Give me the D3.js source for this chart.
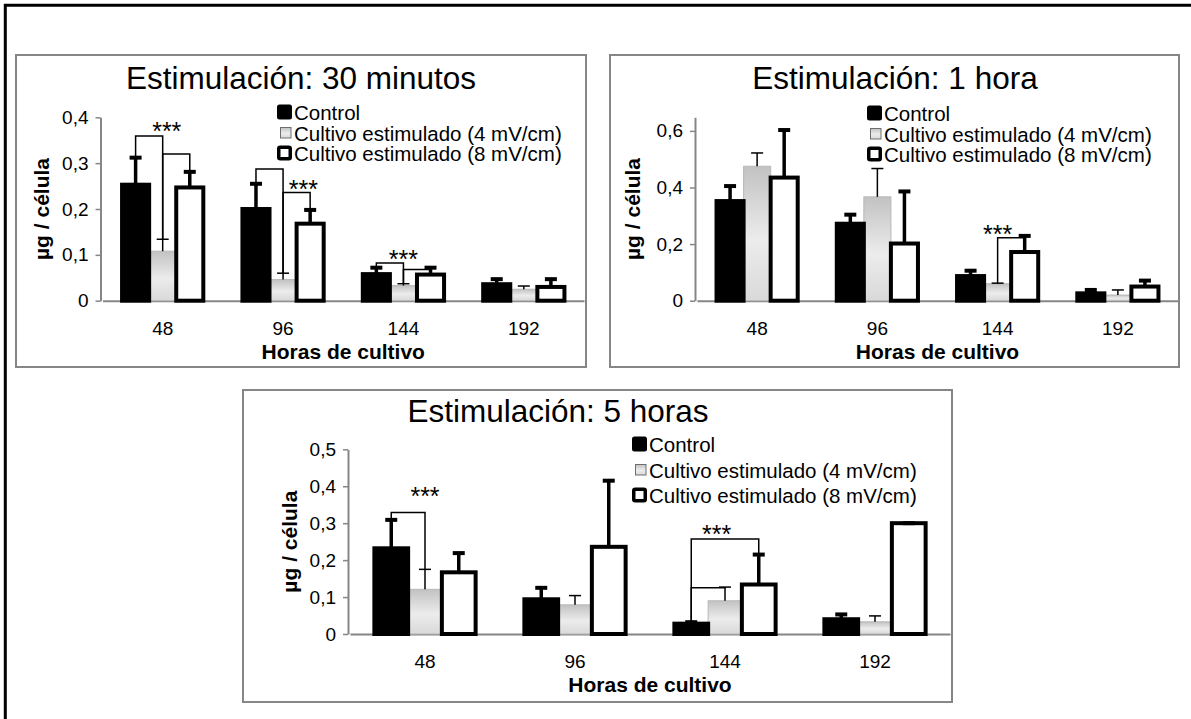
<!DOCTYPE html>
<html>
<head>
<meta charset="utf-8">
<script src="https://cdn.jsdelivr.net/npm/d3@7"></script>
<style>
  html, body { margin: 0; padding: 0; background: #fff; }
  svg { display: block; }
</style>
</head>
<body>
<svg id="fig" width="1191" height="719"></svg>
<script>
// ---- data -------------------------------------------------------------
const categories = ["48", "96", "144", "192"];
const seriesLabels = ["Control", "Cultivo estimulado (4 mV/cm)", "Cultivo estimulado (8 mV/cm)"];

// Estimulación: 30 minutos (µg / célula)
const control30 = [0.253, 0.200, 0.058, 0.036];
const low30     = [0.108, 0.046, 0.033, 0.025];
const high30    = [0.247, 0.168, 0.057, 0.030];
const control30Err = [0.059, 0.055, 0.014, 0.011];
const low30Err     = [0.026, 0.014, 0.004, 0.007];
const high30Err    = [0.034, 0.030, 0.015, 0.017];
const yTicks30 = [0, 0.1, 0.2, 0.3, 0.4];

// Estimulación: 1 hora
const control1h = [0.352, 0.272, 0.087, 0.026];
const low1h     = [0.475, 0.367, 0.060, 0.020];
const high1h    = [0.435, 0.202, 0.172, 0.050];
const control1hErr = [0.053, 0.032, 0.019, 0.012];
const low1hErr     = [0.047, 0.100, 0.002, 0.018];
const high1hErr    = [0.168, 0.184, 0.057, 0.021];
const yTicks1h = [0, 0.2, 0.4, 0.6];

// Estimulación: 5 horas
const control5h = [0.232, 0.094, 0.028, 0.040];
const low5h     = [0.121, 0.079, 0.090, 0.033];
const high5h    = [0.167, 0.236, 0.134, 0.300];
const control5hErr = [0.077, 0.031, 0.004, 0.013];
const low5hErr     = [0.054, 0.025, 0.037, 0.016];
const high5hErr    = [0.052, 0.179, 0.081, 0.000];
const yTicks5h = [0, 0.1, 0.2, 0.3, 0.4, 0.5];

// significance brackets: category index, the two series joined, bracket level,
// and where the "***" sits (top in data units, shift in bar widths)
const sig30 = [
  { cat: 0, from: 0, to: 1, level: 0.359, stars: true, starTop: 0.390, shift: 0.15 },
  { cat: 0, from: 1, to: 2, level: 0.320 },
  { cat: 1, from: 0, to: 1, level: 0.287 },
  { cat: 1, from: 1, to: 2, level: 0.236, stars: true, starTop: 0.263, shift: 0.75 },
  { cat: 2, from: 0, to: 1, level: 0.082, stars: true, starTop: 0.111, shift: 0 },
  { cat: 2, from: 1, to: 2, level: 0.068 }
];
const sig1h = [
  { cat: 2, from: 1, to: 2, level: 0.222, stars: true, starTop: 0.267, shift: 0 }
];
const sig5h = [
  { cat: 0, from: 0, to: 1, level: 0.329, stars: true, starTop: 0.399, shift: 0 },
  { cat: 2, from: 0, to: 2, level: 0.257, stars: true, starTop: 0.295, shift: -0.25 },
  { cat: 2, from: 0, to: 1, level: 0.125 }
];

// ---- layout -----------------------------------------------------------
const FONT = "'Liberation Sans', Arial, Helvetica, sans-serif";
const AXIS_GREY = "#868686";

const panels = [
  {
    title: "Estimulación: 30 minutos",
    means: [control30, low30, high30], errs: [control30Err, low30Err, high30Err],
    ticks: yTicks30, yMax: 0.4, sig: sig30,
    box: [16, 55, 586, 367], x0: 102.5, x1: 584, y0: 300.7, y1: 117.3,
    titleX: 301, titleY: 89, legendX: 277, legendY: 120, legendStep: 20.5, yLabelX: 48.5
  },
  {
    title: "Estimulación: 1 hora",
    means: [control1h, low1h, high1h], errs: [control1hErr, low1hErr, high1hErr],
    ticks: yTicks1h, yMax: 0.648, sig: sig1h,
    box: [610, 55, 1179, 367], x0: 697, x1: 1178, y0: 300.7, y1: 117.3,
    titleX: 895, titleY: 89, legendX: 867, legendY: 121, legendStep: 20.5, yLabelX: 639.5
  },
  {
    title: "Estimulación: 5 horas",
    means: [control5h, low5h, high5h], errs: [control5hErr, low5hErr, high5hErr],
    ticks: yTicks5h, yMax: 0.5, sig: sig5h,
    box: [243, 390, 952, 702], x0: 350, x1: 950, y0: 634, y1: 449.3,
    titleX: 558, titleY: 422, legendX: 632, legendY: 452, legendStep: 25.5, yLabelX: 297
  }
];

const svg = d3.select("#fig");
svg.append("rect").attr("width", 1191).attr("height", 719).attr("fill", "#fff");

// light gradient used by the 4 mV/cm bars
const defs = svg.append("defs");
const grad = defs.append("linearGradient").attr("id", "greyFill")
  .attr("x1", 0).attr("y1", 0).attr("x2", 0).attr("y2", 1);
grad.append("stop").attr("offset", "0%").attr("stop-color", "#c2c2c2");
grad.append("stop").attr("offset", "55%").attr("stop-color", "#ececec");
grad.append("stop").attr("offset", "100%").attr("stop-color", "#d9d9d9");

// outer frame (left and top edges)
svg.append("path")
  .attr("d", "M5.3,719 V5.3 H1191")
  .attr("fill", "none").attr("stroke", "#000").attr("stroke-width", 3);

const fmt = d => d === 0 ? "0" : d3.format(".1f")(d).replace(".", ",");

function drawPanel(p) {
  const g = svg.append("g");
  const [bx0, by0, bx1, by1] = p.box;
  g.append("rect")
    .attr("x", bx0).attr("y", by0).attr("width", bx1 - bx0).attr("height", by1 - by0)
    .attr("fill", "#fff").attr("stroke", AXIS_GREY).attr("stroke-width", 2);

  const x = d3.scaleBand().domain(categories).range([p.x0, p.x1]);
  const y = d3.scaleLinear().domain([0, p.yMax]).range([p.y0, p.y1]);
  const slot = x.bandwidth() * 0.225;
  const cx = (ci, s) => x(categories[ci]) + x.bandwidth() / 2 + (s - 1) * slot;

  // y axis
  const yAxis = g.append("g")
    .attr("transform", `translate(${p.x0 - 2},0)`)
    .call(d3.axisLeft(y).tickValues(p.ticks).tickFormat(fmt)
      .tickSize(5).tickSizeOuter(0).tickPadding(7));
  yAxis.select(".domain").attr("stroke", AXIS_GREY).attr("stroke-width", 2);
  yAxis.selectAll(".tick line").attr("stroke", AXIS_GREY).attr("stroke-width", 1.5);
  yAxis.selectAll(".tick text").attr("font-family", FONT).attr("font-size", 19).attr("fill", "#000");

  // x axis
  const xAxis = g.append("g")
    .attr("transform", `translate(0,${p.y0})`)
    .call(d3.axisBottom(x).tickSize(0).tickSizeOuter(0).tickPadding(20.5));
  xAxis.select(".domain").attr("stroke", AXIS_GREY).attr("stroke-width", 2);
  xAxis.selectAll(".tick text").attr("font-family", FONT).attr("font-size", 19).attr("fill", "#000");

  // axis titles
  g.append("text")
    .attr("transform", `translate(${p.yLabelX},${(p.y0 + p.y1) / 2}) rotate(-90)`)
    .attr("text-anchor", "middle")
    .attr("font-family", FONT).attr("font-size", 21).attr("font-weight", "bold")
    .text("µg / célula");
  g.append("text")
    .attr("x", (p.x0 + p.x1) / 2).attr("y", p.y0 + 58)
    .attr("text-anchor", "middle")
    .attr("font-family", FONT).attr("font-size", 21).attr("font-weight", "bold")
    .text("Horas de cultivo");

  // chart title
  g.append("text")
    .attr("x", p.titleX).attr("y", p.titleY)
    .attr("text-anchor", "middle")
    .attr("font-family", FONT).attr("font-size", 31.5)
    .text(p.title);

  // bars: the grey series first so the outlined bars sit on top of it
  const styles = [
    { fill: "#000", stroke: "#000", sw: 4, errW: 3.5, capW: 4 },
    { fill: "url(#greyFill)", stroke: "#b8b8b8", sw: 1, errW: 1.5, capW: 1.5 },
    { fill: "#fff", stroke: "#000", sw: 4, errW: 3.5, capW: 4 }
  ];
  [1, 0, 2].forEach(s => {
    const st = styles[s];
    const rows = categories.map((c, i) => ({ i, v: p.means[s][i], e: p.errs[s][i] }));
    g.append("g").selectAll("rect").data(rows).join("rect")
      .attr("x", d => cx(d.i, s) - slot / 2)
      .attr("y", d => y(d.v))
      .attr("width", slot)
      .attr("height", d => y(0) - y(d.v))
      .attr("fill", st.fill).attr("stroke", st.stroke).attr("stroke-width", st.sw);
  });

  // error bars (upper side only)
  [1, 0, 2].forEach(s => {
    const st = styles[s];
    const rows = categories.map((c, i) => ({ i, v: p.means[s][i], e: p.errs[s][i] }));
    const eg = g.append("g").attr("stroke", "#000");
    eg.selectAll("line.stem").data(rows).join("line").attr("class", "stem")
      .attr("x1", d => cx(d.i, s)).attr("x2", d => cx(d.i, s))
      .attr("y1", d => y(d.v)).attr("y2", d => y(d.v + d.e))
      .attr("stroke-width", st.errW);
    eg.selectAll("line.cap").data(rows).join("line").attr("class", "cap")
      .attr("x1", d => cx(d.i, s) - 6).attr("x2", d => cx(d.i, s) + 6)
      .attr("y1", d => y(d.v + d.e)).attr("y2", d => y(d.v + d.e))
      .attr("stroke-width", st.capW);
  });

  // significance brackets
  const top = (ci, s) => p.means[s][ci] + p.errs[s][ci];
  g.append("g").selectAll("path").data(p.sig).join("path")
    .attr("d", d => {
      const xa = cx(d.cat, d.from), xb = cx(d.cat, d.to);
      return `M${xa},${y(top(d.cat, d.from))} V${y(d.level)} H${xb} V${y(top(d.cat, d.to))}`;
    })
    .attr("fill", "none").attr("stroke", "#000").attr("stroke-width", 1.5);
  g.append("g").selectAll("text").data(p.sig.filter(d => d.stars)).join("text")
    .attr("x", d => cx(d.cat, 1) + d.shift * slot)
    .attr("y", d => y(d.starTop) + 18)
    .attr("text-anchor", "middle")
    .attr("font-family", FONT).attr("font-size", 25)
    .text("***");

  // legend
  const lg = g.append("g");
  seriesLabels.forEach((lab, i) => {
    const base = p.legendY + i * p.legendStep;
    if (i === 0) {
      lg.append("rect").attr("x", p.legendX).attr("y", base - 15.5)
        .attr("width", 15).attr("height", 15).attr("rx", 2.5).attr("fill", "#000");
    } else if (i === 1) {
      lg.append("rect").attr("x", p.legendX + 3.5).attr("y", base - 13)
        .attr("width", 10.5).attr("height", 10.5)
        .attr("fill", "url(#greyFill)").attr("stroke", "#6e6e6e").attr("stroke-width", 1);
    } else {
      lg.append("rect").attr("x", p.legendX + 1.75).attr("y", base - 13.75)
        .attr("width", 11.5).attr("height", 11.5).attr("rx", 1.5)
        .attr("fill", "#fff").attr("stroke", "#000").attr("stroke-width", 3.5);
    }
    lg.append("text").attr("x", p.legendX + 17).attr("y", base)
      .attr("font-family", FONT).attr("font-size", 20.5).text(lab);
  });
}

panels.forEach(drawPanel);
</script>
</body>
</html>
